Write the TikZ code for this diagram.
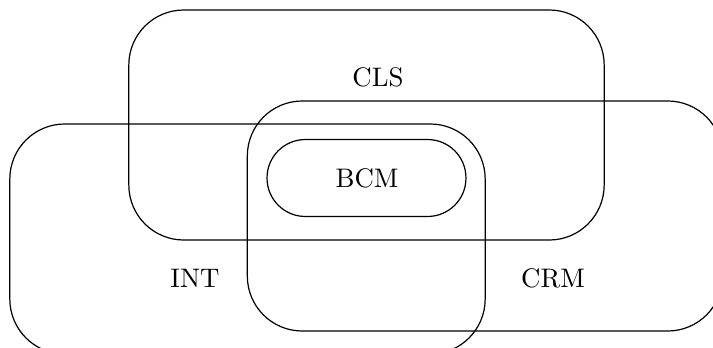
\documentclass[tikz,border=0pt]{standalone}
\begin{document}
\begin{tikzpicture}[x=0.373pt,y=-0.373pt,
  setbox/.style={draw,line width=0.45pt,rounded corners=20.5pt,inner sep=0pt,
    minimum width=177.3pt,minimum height=85.8pt},
  pillbox/.style={draw,line width=0.45pt,rounded corners=14.3pt,inner sep=0pt,
    minimum width=74.2pt,minimum height=28.7pt},
  lbl/.style={inner sep=0pt,font=\normalsize}]
\useasboundingbox (0,0) rectangle (713,348);
\clip (0,0) rectangle (713,348);
\node[setbox] (cls) at (366.5,125) {};
\node[setbox] (crm) at (485,216) {};
\node[setbox] (int) at (247.5,239) {};
\node[pillbox] (bcm) at (366.5,178) {};
\node[lbl] (clsl) at (378,77) {CLS};
\node[lbl] (bcml) at (367,178) {BCM};
\node[lbl] (intl) at (195,278) {INT};
\node[lbl] (crml) at (553,278) {CRM};
\end{tikzpicture}
\end{document}
